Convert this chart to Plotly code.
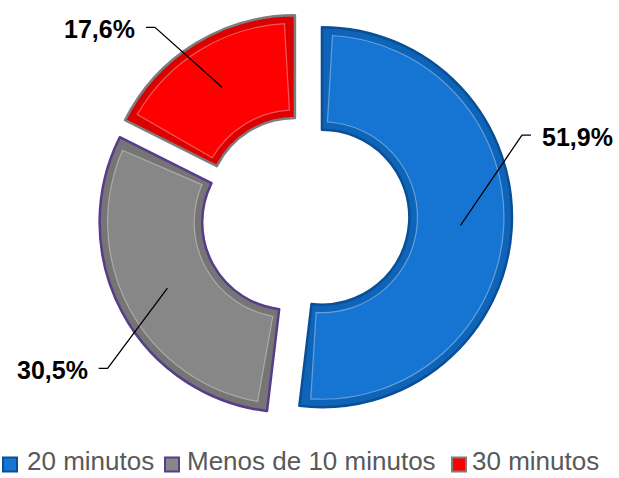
import math
import plotly.graph_objects as go

# ---- data ----
labels = ["20 minutos", "Menos de 10 minutos", "30 minutos"]
values = [51.9, 30.5, 17.6]
value_text = ["51,9%", "30,5%", "17,6%"]

# ---- style / layout ----
W, H = 619, 478
band_colors = ["#0e64b8", "#757575", "#dc0000"]     # bevel band (outer slice)
face_colors = ["#1675d2", "#878787", "#ff0000"]     # flat face (inset slice)
edge_colors = ["#0a4f95", "#573c8a", "#7d7d7d"]
pull_px = [20.5, 13.5, 12.5]    # explosion of each slice in pixels
hole = 0.46
cx, cy = 301.5, 216.0          # pixel centre of the un-pulled pie
R = 190.0                       # outer radius in pixels
inset = 8.0                     # bevel width in pixels

label_offsets = [(200, -82, 1), (-182, 146, -1), (-140, -178, -1)]
font_family = "Arial, Liberation Sans, sans-serif"
legend_x = [(3, 25), (165, 185), (452, 470)]   # (square left, text left) in px
legend_sq_y = 464.5
legend_sq = 14

def domain_for(r_out):
    half = r_out + max(pull_px)
    return dict(x=[(cx - half) / W, (cx + half) / W],
                y=[(H - cy - half) / H, (H - cy + half) / H])

fig = go.Figure()
# outer slices (bevel band + border)
fig.add_trace(go.Pie(
    labels=labels, values=values, sort=False, direction="clockwise", rotation=0,
    hole=hole, pull=[p / R for p in pull_px], textinfo="none", hoverinfo="label+percent",
    marker=dict(colors=band_colors, line=dict(color=edge_colors, width=2.5)),
    domain=domain_for(R), showlegend=False,
))

# inset faces (same slices, shrunk by the bevel width)
total = sum(values)
r2 = R - inset
r_in = hole * R
r_mid = (R + r_in) / 2
gap = inset / r_mid / (2 * math.pi) * total
ov_vals, ov_cols, ov_lines, ov_pull = [], [], [], []
for v, fc, p in zip(values, face_colors, pull_px):
    ov_vals += [gap, v - 2 * gap, gap]
    ov_cols += ["rgba(0,0,0,0)", fc, "rgba(0,0,0,0)"]
    ov_lines += ["rgba(0,0,0,0)", "rgba(255,255,255,0.35)", "rgba(0,0,0,0)"]
    ov_pull += [max(pull_px) / r2, p / r2, max(pull_px) / r2]
fig.add_trace(go.Pie(
    values=ov_vals, labels=[f"s{i}" for i in range(len(ov_vals))], sort=False,
    direction="clockwise", rotation=0, hole=(r_in + inset) / r2,
    pull=ov_pull, textinfo="none", hoverinfo="skip",
    marker=dict(colors=ov_cols, line=dict(color=ov_lines, width=1.2)),
    domain=domain_for(r2), showlegend=False,
))

def px2paper(x, y):
    return x / W, 1 - y / H

shapes, annotations = [], []
cum = 0.0
for v, txt, p, (ox, oy, side) in zip(values, value_text, pull_px, label_offsets):
    a0 = cum / total * 2 * math.pi
    cum += v
    a1 = cum / total * 2 * math.pi
    am = (a0 + a1) / 2
    pcx = cx + p * math.sin(am)
    pcy = cy - p * math.cos(am)
    px, py = pcx + r_mid * math.sin(am), pcy - r_mid * math.cos(am)
    ex, ey = pcx + ox, pcy + oy
    tx = ex + side * 9
    p1 = px2paper(px, py); p2 = px2paper(ex, ey); p3 = px2paper(tx, ey)
    shapes.append(dict(type="path", xref="paper", yref="paper",
                       path=f"M{p1[0]},{p1[1]} L{p2[0]},{p2[1]} L{p3[0]},{p3[1]}",
                       line=dict(color="black", width=1.3)))
    lx, ly = px2paper(tx + side * 9, ey + 2)
    annotations.append(dict(x=lx, y=ly, xref="paper", yref="paper", text=f"<b>{txt}</b>",
                            showarrow=False, xanchor="left" if side > 0 else "right",
                            yanchor="middle", font=dict(size=25, color="black", family=font_family)))

# legend drawn as squares + text
for lab, fc, ec, (sx, tx) in zip(labels, face_colors, edge_colors, legend_x):
    x0, y0 = px2paper(sx, legend_sq_y + legend_sq / 2)
    x1, y1 = px2paper(sx + legend_sq, legend_sq_y - legend_sq / 2)
    shapes.append(dict(type="rect", xref="paper", yref="paper", x0=x0, y0=y0, x1=x1, y1=y1,
                       fillcolor=fc, line=dict(color=ec, width=2)))
    annotations.append(dict(x=tx / W, y=0, xref="paper", yref="paper", text=lab, showarrow=False,
                            xanchor="left", yanchor="bottom",
                            font=dict(size=26, color="#595959", family=font_family)))

fig.update_layout(
    width=W, height=H, margin=dict(l=0, r=0, t=0, b=0),
    paper_bgcolor="white", plot_bgcolor="white", showlegend=False,
    shapes=shapes, annotations=annotations,
)

fig.write_html("out.html", config={"displayModeBar": False},
               post_script="document.body.style.margin='0px';document.body.style.overflow='hidden';")
